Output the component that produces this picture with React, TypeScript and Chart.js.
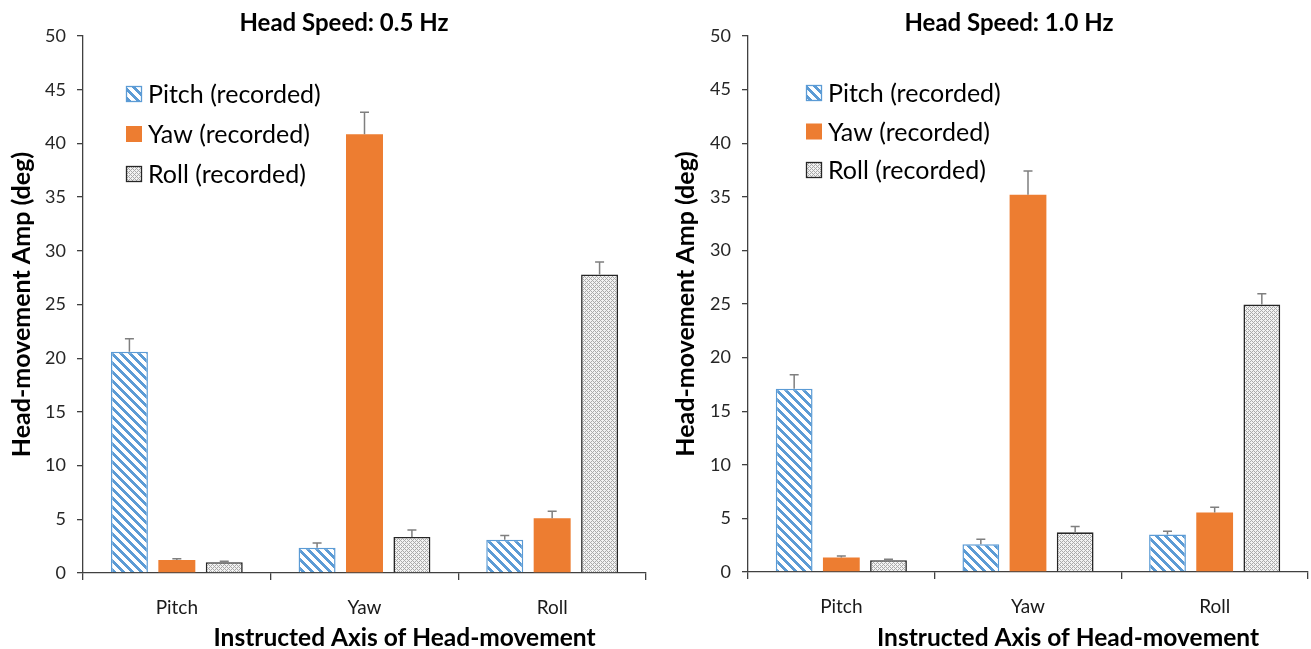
import React, { useEffect, useRef } from "react";
import { Chart, registerables } from "chart.js";

Chart.register(...registerables);

// ---------- data ----------
const categories = ["Pitch", "Yaw", "Roll"];
const seriesLabels = ["Pitch (recorded)", "Yaw (recorded)", "Roll (recorded)"];
const yTickValues = [0, 5, 10, 15, 20, 25, 30, 35, 40, 45, 50];
const chartTitles = ["Head Speed: 0.5 Hz", "Head Speed: 1.0 Hz"];
const xAxisTitle = "Instructed Axis of Head-movement";
const yAxisTitle = "Head-movement Amp (deg)";

// 0.5 Hz
const slowPitch = [20.6, 2.35, 3.1];
const slowYaw = [1.2, 40.85, 5.1];
const slowRoll = [1.0, 3.35, 27.8];
const slowPitchErr = [1.2, 0.45, 0.4];
const slowYawErr = [0.13, 2.05, 0.65];
const slowRollErr = [0.1, 0.65, 1.15];

// 1.0 Hz
const fastPitch = [17.1, 2.6, 3.5];
const fastYaw = [1.35, 35.2, 5.55];
const fastRoll = [1.1, 3.7, 24.95];
const fastPitchErr = [1.3, 0.45, 0.3];
const fastYawErr = [0.15, 2.2, 0.5];
const fastRollErr = [0.1, 0.55, 1.0];

const FONT = "Lato, 'Liberation Sans', sans-serif";
const BLUE = "#5B9BD5";
const ORANGE = "#ED7D31";
const AXIS = "#404040";

function makePitchPattern(ctx: CanvasRenderingContext2D) {
  const n = 9;
  const c = document.createElement("canvas");
  c.width = n;
  c.height = n;
  const g = c.getContext("2d")!;
  g.fillStyle = "#ffffff";
  g.fillRect(0, 0, n, n);
  g.fillStyle = BLUE;
  for (let y = 0; y < n; y++) {
    for (let x = 0; x < n; x++) {
      const d = (((x - y) % n) + n) % n;
      if (d < 4) g.fillRect(x, y, 1, 1);
    }
  }
  return ctx.createPattern(c, "repeat")!;
}

function makeRollPattern(ctx: CanvasRenderingContext2D) {
  const n = 4;
  const c = document.createElement("canvas");
  c.width = n;
  c.height = n;
  const g = c.getContext("2d")!;
  g.fillStyle = "#f2f2f2";
  g.fillRect(0, 0, n, n);
  g.fillStyle = "#aaaaaa";
  for (let y = 0; y < n; y++) {
    for (let x = 0; x < n; x++) {
      if ((x + y) % n === 0 || (((x - y) % n) + n) % n === 0) g.fillRect(x, y, 1, 1);
    }
  }
  return ctx.createPattern(c, "repeat")!;
}

const errorBarPlugin = {
  id: "errorBars",
  afterDatasetsDraw(chart: any) {
    const ctx = chart.ctx;
    const ys = chart.scales.y;
    chart.data.datasets.forEach((ds: any, i: number) => {
      const meta = chart.getDatasetMeta(i);
      meta.data.forEach((bar: any, j: number) => {
        const top = ys.getPixelForValue(ds.data[j] + ds.errors[j]);
        ctx.save();
        ctx.strokeStyle = "#7f7f7f";
        ctx.lineWidth = 1.5;
        ctx.beginPath();
        ctx.moveTo(bar.x, bar.y);
        ctx.lineTo(bar.x, top);
        ctx.moveTo(bar.x - 4.5, top);
        ctx.lineTo(bar.x + 4.5, top);
        ctx.stroke();
        ctx.restore();
      });
    });
  },
};

const insideLegendPlugin = {
  id: "insideLegend",
  afterDraw(chart: any, _args: any, opts: any) {
    const ctx = chart.ctx;
    const area = chart.chartArea;
    ctx.save();
    ctx.font = `${opts.fontSize}px ${FONT}`;
    ctx.textBaseline = "middle";
    chart.data.datasets.forEach((ds: any, i: number) => {
      const cx = area.left + opts.dx;
      const cy = area.top + opts.dy + i * opts.spacing;
      const s = opts.box;
      ctx.fillStyle = ds.backgroundColor;
      ctx.fillRect(cx, cy - s / 2, s, s);
      if (ds.borderWidth > 0) {
        ctx.strokeStyle = ds.borderColor;
        ctx.lineWidth = 1.3;
        ctx.strokeRect(cx + 0.5, cy - s / 2 + 0.5, s - 1, s - 1);
      }
      ctx.fillStyle = "#000";
      ctx.fillText(ds.label, cx + s + 6, cy + 1);
    });
    ctx.restore();
  },
};

const captionPlugin = {
  id: "captions",
  afterDraw(chart: any, _args: any, opts: any) {
    const ctx = chart.ctx;
    const area = chart.chartArea;
    ctx.save();
    ctx.fillStyle = "#000";
    ctx.textAlign = "center";
    ctx.textBaseline = "middle";
    ctx.font = `bold ${opts.titleSize}px ${FONT}`;
    ctx.fillText(opts.title, area.left + opts.titleDx, opts.titleY);
    ctx.font = `bold ${opts.xTitleSize}px ${FONT}`;
    ctx.fillText(opts.xTitle, (area.left + area.right) / 2 + opts.xTitleDx, opts.xTitleY);
    ctx.restore();
  },
};

interface Panel {
  title: string;
  pitch: number[];
  yaw: number[];
  roll: number[];
  pitchErr: number[];
  yawErr: number[];
  rollErr: number[];
  yWidth: number;
  xHeight: number;
  padRight: number;
  yTitlePad: number;
  legendDx: number;
  legendDy: number;
  legendSpacing: number;
}

const panels: Panel[] = [
  {
    title: chartTitles[0],
    pitch: slowPitch,
    yaw: slowYaw,
    roll: slowRoll,
    pitchErr: slowPitchErr,
    yawErr: slowYawErr,
    rollErr: slowRollErr,
    yWidth: 83,
    xHeight: 76,
    padRight: 9,
    yTitlePad: 7,
    legendDx: 43,
    legendDy: 58,
    legendSpacing: 40,
  },
  {
    title: chartTitles[1],
    pitch: fastPitch,
    yaw: fastYaw,
    roll: fastRoll,
    pitchErr: fastPitchErr,
    yawErr: fastYawErr,
    rollErr: fastRollErr,
    yWidth: 93,
    xHeight: 77,
    padRight: 3,
    yTitlePad: 16,
    legendDx: 58,
    legendDy: 57,
    legendSpacing: 38.5,
  },
];

function BarPanel({ p, width }: { p: Panel; width: number }) {
  const ref = useRef<HTMLCanvasElement>(null);
  useEffect(() => {
    const canvas = ref.current!;
    const ctx = canvas.getContext("2d")!;
    const pitchPattern = makePitchPattern(ctx);
    const rollPattern = makeRollPattern(ctx);
    const chart = new Chart(canvas, {
      type: "bar",
      data: {
        labels: categories,
        datasets: [
          {
            label: seriesLabels[0],
            data: p.pitch,
            errors: p.pitchErr,
            backgroundColor: pitchPattern,
            borderColor: BLUE,
            borderWidth: 1.5,
            categoryPercentage: 0.758,
            barPercentage: 0.78,
          } as any,
          {
            label: seriesLabels[1],
            data: p.yaw,
            errors: p.yawErr,
            backgroundColor: ORANGE,
            borderColor: ORANGE,
            borderWidth: 0,
            categoryPercentage: 0.758,
            barPercentage: 0.78,
          } as any,
          {
            label: seriesLabels[2],
            data: p.roll,
            errors: p.rollErr,
            backgroundColor: rollPattern,
            borderColor: "#262626",
            borderWidth: 1.6,
            categoryPercentage: 0.758,
            barPercentage: 0.78,
          } as any,
        ],
      },
      options: {
        responsive: false,
        animation: false,
        events: [],
        layout: { padding: { top: 36, right: p.padRight, left: 0, bottom: 0 } },
        plugins: {
          legend: { display: false },
          tooltip: { enabled: false },
          title: { display: false },
          insideLegend: {
            dx: p.legendDx,
            dy: p.legendDy,
            spacing: p.legendSpacing,
            box: 16,
            fontSize: 25,
          },
          captions: {
            title: p.title,
            titleDx: 261,
            titleY: 23,
            titleSize: 24,
            xTitle: xAxisTitle,
            xTitleDx: 40,
            xTitleY: 638,
            xTitleSize: 24.5,
          },
        } as any,
        scales: {
          x: {
            z: 1,
            grid: {
              display: true,
              drawOnChartArea: false,
              drawTicks: true,
              tickLength: 7,
              color: AXIS,
              lineWidth: 1.3,
              offset: true,
            },
            border: { display: true, color: AXIS, width: 1.3 },
            ticks: {
              color: "#1a1a1a",
              font: { family: FONT, size: 19 },
              padding: 16,
            },
            afterFit: (s: any) => {
              s.height = p.xHeight;
            },
          },
          y: {
            min: 0,
            max: 50,
            afterBuildTicks: (s: any) => {
              s.ticks = yTickValues.map((v) => ({ value: v }));
            },
            grid: {
              display: true,
              drawOnChartArea: false,
              drawTicks: true,
              tickLength: 6,
              color: AXIS,
              lineWidth: 1.3,
            },
            border: { display: true, color: AXIS, width: 1.3 },
            ticks: {
              color: "#262626",
              font: { family: FONT, size: 18 },
              padding: 11,
            },
            title: {
              display: true,
              text: yAxisTitle,
              color: "#000",
              font: { family: FONT, size: 25, weight: "bold" },
              padding: { top: p.yTitlePad, bottom: 0 },
            },
            afterFit: (s: any) => {
              s.width = p.yWidth;
            },
          },
        },
      },
      plugins: [errorBarPlugin, insideLegendPlugin, captionPlugin],
    } as any);
    return () => chart.destroy();
  }, [p]);
  return <canvas ref={ref} width={width} height={649} style={{ display: "block", width, height: 649 }} />;
}

export default function App() {
  return (
    <div
      style={{
        position: "absolute",
        left: 0,
        top: 0,
        width: 1311,
        height: 649,
        background: "#fff",
        display: "flex",
      }}
    >
      <BarPanel p={panels[0]} width={655} />
      <BarPanel p={panels[1]} width={656} />
    </div>
  );
}
